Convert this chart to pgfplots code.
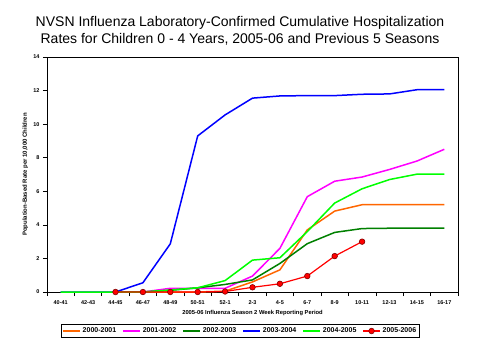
\documentclass[border=0pt]{standalone}
\usepackage{pgfplots}
\pgfplotsset{compat=1.18}
\usepackage{fontspec}
\setmainfont{Liberation Sans}
\definecolor{cOrange}{RGB}{255,102,0}
\definecolor{cMagenta}{RGB}{255,0,255}
\definecolor{cDGreen}{RGB}{0,128,0}
\definecolor{cBlue}{RGB}{0,0,255}
\definecolor{cLime}{RGB}{0,255,0}
\definecolor{cRed}{RGB}{255,0,0}
\definecolor{cMaroon}{RGB}{128,0,0}
\begin{document}
\begin{tikzpicture}
\path[use as bounding box] (0,0) rectangle (480pt,360pt);
\node[anchor=base,font=\fontsize{14}{16}\selectfont] at (240pt,334pt) {NVSN Influenza Laboratory-Confirmed Cumulative Hospitalization};
\node[anchor=base,font=\fontsize{14}{16}\selectfont] at (240pt,316.5pt) {Rates for Children 0 - 4 Years, 2005-06 and Previous 5 Seasons};
\begin{axis}[
  at={(47pt,68pt)}, anchor=south west,
  scale only axis, width=411pt, height=235pt,
  xmin=-0.5, xmax=14.5, ymin=0, ymax=14,
  xtick={0,...,14},
  xticklabels={40-41,42-43,44-45,46-47,48-49,50-51,52-1,2-3,4-5,6-7,8-9,10-11,12-13,14-15,16-17},
  minor xtick={-0.5,0.5,...,14.5},
  major x tick style={draw=none},
  ytick={0,2,...,14},
  tick pos=left, tick align=outside,
  major tick length=4pt, minor tick length=4pt,
  tick style={black, line width=0.6pt},
  axis line style={black, line width=0.8pt},
  /pgf/number format/assume math mode=true,
  ticklabel style={font=\fontsize{5.5}{6}\selectfont\bfseries},
  xticklabel style={yshift=-1pt},
  xlabel={2005-06 Influenza Season 2 Week Reporting Period},
  ylabel={Population-Based Rate per 10,000 Children},
  xlabel style={at={(axis description cs:0.5,-0.089)}, anchor=center, font=\fontsize{5.8}{7}\selectfont\bfseries},
  ylabel style={at={(axis description cs:-0.053,0.5)}, anchor=center, rotate=0, font=\fontsize{6}{7}\selectfont\bfseries},
  legend columns=6,
  legend style={at={(0.47,-0.166)}, anchor=center, draw=black, line width=0.8pt,
    font=\fontsize{7}{8}\selectfont\bfseries, inner sep=1pt,
    /tikz/every even column/.append style={column sep=4pt}},
  every axis plot/.append style={line width=1.5pt},
]
\addplot[cOrange, no markers] coordinates {(2,0) (3,0) (4,0) (5,0) (6,0.05) (7,0.6) (8,1.32) (9,3.7) (10,4.82) (11,5.2) (12,5.2) (13,5.2) (14,5.2)};
\addlegendentry{2000-2001}
\addplot[cMagenta, no markers] coordinates {(2,0) (3,0) (4,0.22) (5,0.22) (6,0.22) (7,0.95) (8,2.6) (9,5.68) (10,6.6) (11,6.85) (12,7.3) (13,7.8) (14,8.5)};
\addlegendentry{2001-2002}
\addplot[cDGreen, no markers] coordinates {(2,0) (3,0) (4,0.1) (5,0.25) (6,0.45) (7,0.72) (8,1.7) (9,2.88) (10,3.55) (11,3.78) (12,3.8) (13,3.8) (14,3.8)};
\addlegendentry{2002-2003}
\addplot[cBlue, no markers] coordinates {(0,0) (1,0) (2,0) (3,0.55) (4,2.87) (5,9.3) (6,10.55) (7,11.55) (8,11.68) (9,11.7) (10,11.7) (11,11.78) (12,11.8) (13,12.05) (14,12.05)};
\addlegendentry{2003-2004}
\addplot[cLime, no markers] coordinates {(0,0) (1,0) (2,0) (3,0) (4,0.12) (5,0.25) (6,0.68) (7,1.9) (8,2.04) (9,3.6) (10,5.3) (11,6.15) (12,6.7) (13,7.02) (14,7.02)};
\addlegendentry{2004-2005}
\addplot[cRed, line width=1.2pt, mark=*, mark size=2.8pt, mark options={fill=cRed, draw=cMaroon, line width=0.6pt}] coordinates {(2,0) (3,0) (4,0) (5,0) (6,0.03) (7,0.28) (8,0.49) (9,0.95) (10,2.14) (11,3.0)};
\addlegendentry{2005-2006}
\end{axis}
\end{tikzpicture}
\end{document}
